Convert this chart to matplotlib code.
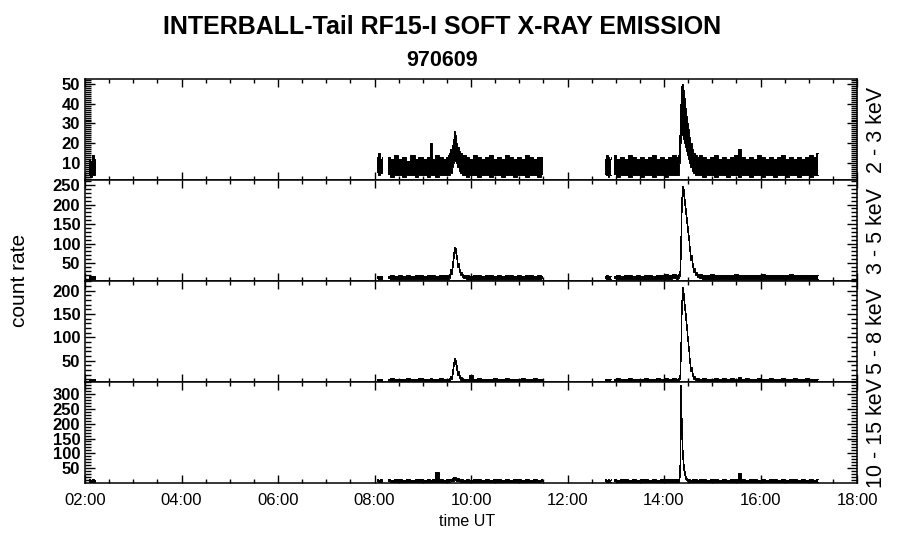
import matplotlib
matplotlib.use("Agg")
import matplotlib.pyplot as plt
from matplotlib.ticker import MultipleLocator, FuncFormatter
import numpy as np

nan = float("nan")

# ---------------- data (time in hours UT, envelope of count rate) ----------------
t_hours = [
    2.08, 2.12, 2.16, 2.20, 2.23, nan,
    8.05, 8.09, 8.13, 8.18, nan,
    8.29, 8.37, 8.45, 8.54, 8.62, 8.70, 8.79, 8.87, 8.95, 9.04, 9.12, 9.18, 9.22, 9.30, 9.38, 9.45, 9.50,
    9.53, 9.56, 9.59, 9.62, 9.645, 9.66, 9.675, 9.70, 9.73, 9.76, 9.79, 9.82, 9.86,
    9.92, 10.00, 10.08, 10.17, 10.25, 10.33, 10.42, 10.50, 10.58, 10.67, 10.75, 10.83, 10.92, 11.00, 11.08, 11.17, 11.25, 11.33, 11.42, 11.50, nan,
    12.77, 12.81, 12.85, 12.89, 12.91, nan,
    12.97, 13.05, 13.13, 13.22, 13.30, 13.38, 13.47, 13.55, 13.63, 13.72, 13.80, 13.88, 13.97, 14.05, 14.13, 14.22,
    14.28, 14.30, 14.32, 14.34, 14.36, 14.38, 14.40, 14.42, 14.44, 14.46, 14.48, 14.50, 14.53, 14.56, 14.59, 14.62, 14.66, 14.70, 14.75,
    14.83, 14.92, 15.00, 15.08, 15.17, 15.25, 15.33, 15.42, 15.50, 15.57, 15.63, 15.72, 15.80, 15.88, 15.97, 16.05, 16.13, 16.22, 16.30, 16.38,
    16.47, 16.55, 16.63, 16.72, 16.80, 16.88, 16.97, 17.05, 17.13, 17.19,
]

hi_2_3 = [
    12, 11, 14, 12, 11, nan,
    13, 15, 12, 13, nan,
    13, 12, 14, 12, 13, 11, 14, 12, 13, 12, 13, 20, 12, 14, 13, 12, 13,
    14, 15, 17, 19, 22, 26, 24, 20, 18, 16, 15, 14, 14,
    13, 12, 14, 13, 12, 13, 14, 12, 13, 12, 14, 13, 12, 13, 12, 14, 13, 12, 13, 13, nan,
    12, 14, 13, 12, 13, nan,
    14, 12, 13, 12, 14, 13, 12, 13, 12, 13, 14, 12, 13, 12, 13, 14,
    13, 14, 24, 40, 49, 50, 47, 43, 38, 34, 30, 27, 23, 20, 17, 15, 14, 13, 14,
    13, 12, 13, 14, 12, 13, 12, 13, 14, 17, 13, 12, 13, 12, 14, 13, 12, 13, 12, 13,
    14, 12, 13, 12, 13, 12, 13, 14, 13, 15,
]
lo_2_3 = [
    4, 3, 4, 4, 5, nan,
    5, 4, 5, 5, nan,
    4, 3, 4, 4, 3, 4, 4, 3, 4, 4, 3, 4, 4, 3, 4, 4, 4,
    4, 4, 5, 8, 10, 11, 11, 10, 8, 6, 5, 4, 4,
    3, 4, 4, 3, 4, 4, 3, 4, 4, 3, 4, 4, 3, 4, 4, 3, 4, 4, 3, 4, nan,
    4, 4, 3, 4, 4, nan,
    4, 3, 4, 4, 3, 4, 4, 3, 4, 4, 3, 4, 4, 3, 4, 4,
    4, 4, 10, 20, 24, 24, 22, 20, 18, 16, 14, 12, 10, 8, 6, 5, 4, 4, 4,
    3, 4, 4, 3, 4, 4, 3, 4, 4, 3, 4, 4, 3, 4, 4, 3, 4, 4, 3, 4,
    4, 3, 4, 4, 3, 4, 4, 3, 4, 4,
]

hi_3_5 = [
    18, 17, 16, 17, 16, nan,
    18, 17, 18, 17, nan,
    18, 19, 18, 20, 18, 19, 18, 19, 20, 18, 19, 20, 19, 18, 19, 20, 19,
    19, 22, 35, 55, 78, 92, 88, 70, 50, 35, 27, 22, 20,
    19, 18, 20, 19, 18, 19, 20, 18, 19, 18, 20, 19, 18, 19, 18, 20, 19, 18, 19, 18, nan,
    18, 19, 18, 17, 18, nan,
    18, 19, 18, 19, 20, 18, 19, 18, 20, 19, 18, 20, 19, 21, 20, 21,
    20, 21, 30, 120, 220, 248, 240, 215, 190, 168, 145, 122, 95, 70, 50, 38, 28, 23, 21,
    20, 19, 21, 20, 19, 20, 19, 20, 21, 19, 20, 19, 20, 19, 20, 21, 19, 20, 19, 20,
    19, 20, 21, 19, 20, 19, 20, 19, 20, 20,
]
lo_3_5 = [
    9, 9, 10, 9, 10, nan,
    10, 9, 10, 10, nan,
    10, 9, 10, 10, 9, 10, 10, 9, 10, 10, 9, 10, 10, 9, 10, 10, 10,
    10, 12, 22, 40, 62, 75, 78, 60, 40, 27, 19, 14, 11,
    10, 9, 10, 10, 9, 10, 10, 9, 10, 10, 9, 10, 10, 9, 10, 10, 9, 10, 10, 9, nan,
    9, 10, 10, 9, 10, nan,
    10, 9, 10, 10, 9, 10, 10, 9, 10, 10, 9, 10, 10, 10, 10, 11,
    10, 11, 18, 60, 180, 225, 222, 200, 175, 152, 130, 108, 82, 58, 40, 28, 20, 14, 11,
    10, 10, 9, 10, 10, 9, 10, 10, 9, 10, 10, 9, 10, 10, 9, 10, 10, 9, 10, 10,
    9, 10, 10, 9, 10, 10, 9, 10, 10, 10,
]

hi_5_8 = [
    12, 11, 12, 11, 12, nan,
    12, 11, 12, 12, nan,
    12, 13, 12, 11, 12, 13, 12, 12, 13, 12, 11, 13, 12, 12, 13, 12, 12,
    12, 13, 18, 32, 48, 56, 52, 40, 28, 20, 15, 13, 12,
    12, 19, 12, 13, 12, 11, 12, 13, 12, 12, 13, 12, 11, 12, 13, 12, 12, 13, 12, 12, nan,
    12, 11, 12, 12, 11, nan,
    12, 13, 12, 12, 13, 12, 11, 12, 13, 12, 12, 13, 12, 13, 12, 13,
    12, 13, 20, 90, 180, 208, 195, 172, 152, 128, 104, 82, 55, 36, 24, 17, 14, 13, 12,
    13, 12, 12, 13, 12, 14, 12, 13, 12, 16, 12, 13, 12, 12, 13, 12, 12, 13, 12, 12,
    13, 12, 12, 13, 12, 12, 13, 12, 12, 12,
]
lo_5_8 = [
    6, 6, 5, 6, 6, nan,
    6, 5, 6, 6, nan,
    6, 5, 6, 6, 5, 6, 6, 5, 6, 6, 5, 6, 6, 5, 6, 6, 6,
    6, 7, 10, 22, 38, 46, 44, 30, 20, 13, 9, 7, 6,
    6, 5, 6, 6, 5, 6, 6, 5, 6, 6, 5, 6, 6, 5, 6, 6, 5, 6, 6, 5, nan,
    6, 5, 6, 6, 5, nan,
    6, 5, 6, 6, 5, 6, 6, 5, 6, 6, 5, 6, 6, 5, 6, 6,
    6, 6, 10, 50, 150, 190, 180, 158, 138, 115, 92, 70, 45, 28, 17, 11, 8, 7, 6,
    6, 5, 6, 6, 5, 6, 6, 5, 6, 6, 5, 6, 6, 5, 6, 6, 5, 6, 6, 5,
    6, 6, 5, 6, 6, 5, 6, 6, 5, 6,
]

hi_10_15 = [
    13, 12, 13, 12, 12, nan,
    13, 12, 13, 12, nan,
    13, 12, 13, 14, 12, 13, 12, 13, 14, 12, 13, 12, 13, 38, 13, 12, 13,
    13, 14, 15, 17, 20, 22, 21, 18, 16, 14, 13, 13, 12,
    13, 12, 13, 14, 12, 13, 12, 13, 14, 12, 13, 12, 13, 14, 12, 13, 12, 13, 12, 13, nan,
    13, 12, 13, 12, 13, nan,
    13, 12, 13, 14, 12, 13, 12, 13, 14, 12, 13, 12, 13, 14, 13, 13,
    13, 14, 60, 330, 220, 110, 65, 40, 25, 17, 14, 13, 13, 12, 13, 14, 13, 12, 13,
    13, 12, 13, 14, 12, 13, 12, 13, 14, 34, 13, 12, 13, 14, 12, 13, 12, 13, 14, 12,
    13, 12, 13, 14, 12, 13, 12, 13, 12, 13,
]
lo_10_15 = [
    5, 5, 4, 5, 5, nan,
    5, 4, 5, 5, nan,
    5, 4, 5, 5, 4, 5, 5, 4, 5, 5, 4, 5, 5, 4, 5, 5, 5,
    5, 5, 6, 7, 8, 9, 9, 8, 7, 6, 5, 5, 5,
    5, 4, 5, 5, 4, 5, 5, 4, 5, 5, 4, 5, 5, 4, 5, 5, 4, 5, 5, 4, nan,
    5, 4, 5, 5, 4, nan,
    5, 4, 5, 5, 4, 5, 5, 4, 5, 5, 4, 5, 5, 4, 5, 5,
    5, 5, 20, 150, 160, 80, 45, 28, 15, 10, 7, 6, 5, 5, 4, 5, 5, 4, 5,
    5, 4, 5, 5, 4, 5, 5, 4, 5, 5, 4, 5, 5, 4, 5, 5, 4, 5, 5, 4,
    5, 5, 4, 5, 5, 4, 5, 5, 4, 5,
]

channel_labels = ["2 - 3 keV", "3 - 5 keV", "5 - 8 keV", "10 - 15 keV"]
y_ranges = [(1.4, 52.5), (4, 263), (4.5, 221), (0.5, 340)]
y_major = [10, 50, 50, 50]
y_minor = [1, 10, 10, 10]
y_label_max = [50, 250, 200, 300]
x_ticks_hours = [2, 4, 6, 8, 10, 12, 14, 16, 18]
x_tick_labels = ["02:00", "04:00", "06:00", "08:00", "10:00", "12:00", "14:00", "16:00", "18:00"]
title_line1 = "INTERBALL-Tail RF15-I SOFT X-RAY EMISSION"
title_line2 = "970609"

series = [(lo_2_3, hi_2_3), (lo_3_5, hi_3_5), (lo_5_8, hi_5_8), (lo_10_15, hi_10_15)]

# ---------------- figure ----------------
W, H = 900, 548
fig = plt.figure(figsize=(W / 100, H / 100), dpi=100)
fig.patch.set_facecolor("white")

ax_left = 85 / W
ax_w = (857 - 85) / W
edges_px = [79, 180, 281, 382, 483]

t_arr = np.array(t_hours, dtype=float)
axes = []
for i in range(4):
    top, bot = edges_px[i], edges_px[i + 1]
    ax = fig.add_axes([ax_left, 1 - bot / H, ax_w, (bot - top) / H])
    axes.append(ax)
    lo, hi = series[i]
    lo = np.array(lo, dtype=float)
    hi = np.array(hi, dtype=float)
    ax.fill_between(t_arr, lo, hi, step="mid", facecolor="black",
                    edgecolor="none", linewidth=0)
    ax.plot(t_arr, hi, color="black", lw=0.7, drawstyle="steps-mid")
    ax.plot(t_arr, lo, color="black", lw=0.7, drawstyle="steps-mid")
    ax.set_xlim(2, 18)
    ax.set_ylim(*y_ranges[i])
    for s in ax.spines.values():
        s.set_linewidth(1.1)
    ax.xaxis.set_major_locator(MultipleLocator(2))
    ax.xaxis.set_minor_locator(MultipleLocator(0.5))
    ax.yaxis.set_major_locator(MultipleLocator(y_major[i]))
    ax.yaxis.set_minor_locator(MultipleLocator(y_minor[i]))
    ymax_lab = y_label_max[i]
    ax.yaxis.set_major_formatter(FuncFormatter(
        lambda v, p, m=ymax_lab: "%d" % v if 0 < v <= m + 0.01 else ""))
    ax.tick_params(axis="both", which="both", direction="in",
                   top=True, right=True, width=1.0, color="black")
    ax.tick_params(axis="x", which="major", length=5.5)
    ax.tick_params(axis="x", which="minor", length=2.6)
    ax.tick_params(axis="y", which="major", length=7.0, pad=3.5)
    ax.tick_params(axis="y", which="minor", length=4.0)
    for lab in ax.get_yticklabels():
        lab.set_fontfamily("Liberation Sans")
        lab.set_fontweight("bold")
        lab.set_fontsize(12)
    if i < 3:
        ax.set_xticklabels([])
    else:
        ax.set_xticks(x_ticks_hours)
        ax.set_xticklabels(x_tick_labels, fontfamily="Liberation Sans",
                           fontsize=12)
        ax.tick_params(axis="x", which="major", pad=7)
    yc = 1 - (top + bot) / 2 / H
    fig.text(876 / W, yc, channel_labels[i], rotation=90, ha="center", va="center",
             fontsize=15.5, fontfamily="Liberation Sans")

fig.text(442 / W, 1 - 27 / H, title_line1, ha="center", va="center",
         fontsize=18, fontweight="bold", fontfamily="Liberation Sans")
fig.text(442 / W, 1 - 60 / H, title_line2, ha="center", va="center",
         fontsize=15.5, fontweight="bold", fontfamily="Liberation Sans")
fig.text(20 / W, 1 - 280 / H, "count rate", rotation=90, ha="center", va="center",
         fontsize=15, fontfamily="Liberation Sans")
fig.text(467 / W, 1 - 522 / H, "time UT", ha="center", va="center",
         fontsize=11.5, fontfamily="Liberation Sans")

fig.savefig("out.png", dpi=100, facecolor="white")
